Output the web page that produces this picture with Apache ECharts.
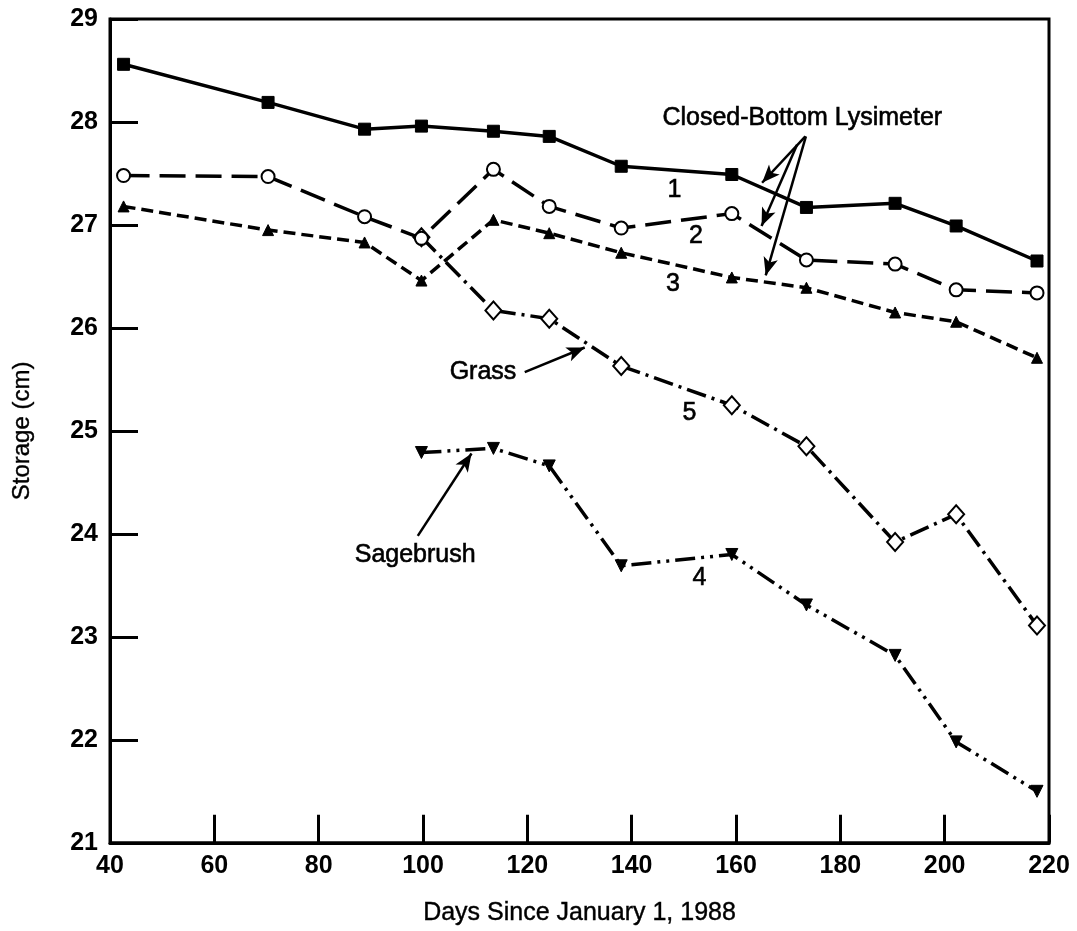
<!DOCTYPE html>
<html>
<head>
<meta charset="utf-8">
<script src="https://cdn.jsdelivr.net/npm/echarts@6/dist/echarts.min.js"></script>
<style>
  html, body { margin: 0; padding: 0; background: #fff; }
  #chart { width: 1077px; height: 931px; }
</style>
</head>
<body>
<div id="chart"></div>
<script>
// Sampling days (days since January 1, 1988)
const days = [42.6, 70.3, 88.8, 99.7, 113.5, 124.2, 138, 159.2, 173.5, 190.5, 202.2, 217.7];

// Soil-water storage (cm) for each lysimeter / plot
const lysimeter1 = [28.56, 28.19, 27.93, 27.96, 27.91, 27.86, 27.57, 27.49, 27.17, 27.21, 26.99, 26.65];
const lysimeter2 = [27.48, 27.47, 27.08, 26.87, 27.54, 27.18, 26.97, 27.11, 26.66, 26.62, 26.37, 26.34];
const lysimeter3 = [27.18, 26.95, 26.83, 26.46, 27.05, 26.92, 26.73, 26.49, 26.39, 26.15, 26.06, 25.71];
const grass      = [null, null, null, 26.88, 26.17, 26.09, 25.63, 25.25, 24.85, 23.92, 24.19, 23.11];
const sagebrush  = [null, null, null, 24.79, 24.83, 24.66, 23.69, 23.80, 23.31, 22.82, 21.98, 21.50];

// Axis ranges
const xTicks = { min: 40, max: 220, step: 20 };
const yTicks = { min: 21, max: 29, step: 1 };

// Text notes placed in data coordinates: [day, storage, text]
const notes = [
  [172.7, 28.04, 'Closed-Bottom Lysimeter'],
  [148.2, 27.34, '1'],
  [152.3, 26.89, '2'],
  [147.9, 26.43, '3'],
  [111.5, 25.57, 'Grass'],
  [151.1, 25.17, '5'],
  [98.5, 23.79, 'Sagebrush'],
  [153.0, 23.57, '4']
];

// Pointer arrows in data coordinates: [fromDay, fromVal, toDay, toVal]
const arrows = [
  [173.3, 27.86, 165.0, 27.41],
  [171.7, 27.78, 164.9, 26.99],
  [173.4, 27.86, 165.7, 26.51],
  [119.5, 25.57, 131.0, 25.81],
  [99.0, 23.98, 109.3, 24.78]
];

const FONT = '"Liberation Sans", Arial, Helvetica, sans-serif';

function pairs(values) {
  const out = [];
  values.forEach((v, i) => { if (v !== null) out.push([days[i], v]); });
  return out;
}

function lineSeries(name, values, opts) {
  return Object.assign({
    name: name,
    type: 'line',
    data: pairs(values),
    symbolSize: 12,
    showSymbol: true,
    z: 3,
    animation: false
  }, opts);
}

const chart = echarts.init(document.getElementById('chart'), null, { renderer: 'canvas' });

chart.setOption({
  backgroundColor: '#fff',
  animation: false,
  grid: {
    left: 110, right: 28, top: 19, bottom: 86,
    show: true, borderColor: '#000', borderWidth: 3, backgroundColor: 'transparent'
  },
  xAxis: {
    type: 'value',
    min: xTicks.min, max: xTicks.max, interval: xTicks.step,
    name: 'Days Since January 1, 1988',
    nameLocation: 'middle',
    nameGap: 58,
    nameTextStyle: { fontFamily: FONT, fontSize: 25, color: '#000', textBorderColor: '#000', textBorderWidth: 0.4 },
    axisLine: { show: true, onZero: false, lineStyle: { color: '#000', width: 3 } },
    axisTick: { show: true, inside: true, length: 28, lineStyle: { color: '#000', width: 3 } },
    axisLabel: { fontFamily: FONT, fontSize: 25, fontWeight: 'bold', color: '#000', margin: 11 },
    splitLine: { show: false }
  },
  yAxis: {
    type: 'value',
    min: yTicks.min, max: yTicks.max, interval: yTicks.step,
    name: 'Storage (cm)',
    nameLocation: 'middle',
    nameGap: 76,
    nameRotate: 90,
    nameTextStyle: { fontFamily: FONT, fontSize: 24, color: '#000', textBorderColor: '#000', textBorderWidth: 0.4 },
    axisLine: { show: true, onZero: false, lineStyle: { color: '#000', width: 3 } },
    axisTick: { show: true, inside: true, length: 28, lineStyle: { color: '#000', width: 3 } },
    axisLabel: { fontFamily: FONT, fontSize: 25, fontWeight: 'bold', color: '#000', margin: 12 },
    splitLine: { show: false }
  },
  series: [
    lineSeries('Lysimeter 1', lysimeter1, {
      symbol: 'rect', symbolSize: 12,
      lineStyle: { color: '#000', width: 3.5, type: 'solid' },
      itemStyle: { color: '#000', borderColor: '#000' }
    }),
    lineSeries('Lysimeter 3', lysimeter3, {
      symbol: 'triangle', symbolSize: 11,
      lineStyle: { color: '#000', width: 3.5, type: [12, 6] },
      itemStyle: { color: '#000', borderColor: '#000' }
    }),
    lineSeries('Grass', grass, {
      symbol: 'diamond', symbolSize: [16, 18],
      lineStyle: { color: '#000', width: 3.5, type: [20, 6, 3, 6] },
      itemStyle: { color: '#fff', borderColor: '#000', borderWidth: 2 }
    }),
    lineSeries('Lysimeter 2', lysimeter2, {
      symbol: 'circle', symbolSize: 13,
      lineStyle: { color: '#000', width: 3.5, type: [26, 10] },
      itemStyle: { color: '#fff', borderColor: '#000', borderWidth: 2 }
    }),
    lineSeries('Sagebrush', sagebrush, {
      symbol: 'triangle', symbolSize: 12, symbolRotate: 180,
      lineStyle: { color: '#000', width: 3.5, type: [20, 6, 3, 6, 3, 6] },
      itemStyle: { color: '#000', borderColor: '#000' }
    }),
    {
      name: 'notes',
      type: 'scatter',
      symbolSize: 0,
      silent: true,
      z: 5,
      itemStyle: { color: '#000', opacity: 1 },
      data: notes.map(n => ({ value: [n[0], n[1]], name: n[2] })),
      label: {
        show: true, position: 'inside', formatter: '{b}',
        fontFamily: FONT, fontSize: 25, color: '#000', opacity: 1,
        textBorderColor: '#000', textBorderWidth: 0.6
      },
      markLine: {
        silent: true,
        animation: false,
        symbol: ['none', 'arrow'],
        symbolSize: [11, 18],
        label: { show: false },
        lineStyle: { color: '#000', width: 2.5, type: 'solid', opacity: 1 },
        data: arrows.map(a => [{ coord: [a[0], a[1]] }, { coord: [a[2], a[3]] }])
      }
    }
  ]
});
</script>
</body>
</html>
